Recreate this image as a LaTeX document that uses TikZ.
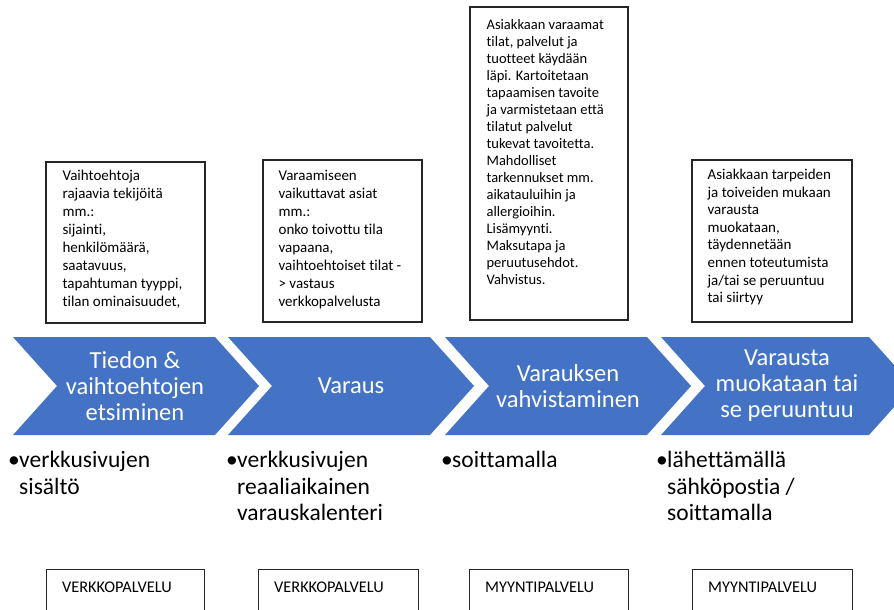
\documentclass[tikz,border=0pt]{standalone}
\usepackage{fontspec}
\setmainfont{Carlito}[Ligatures=NoCommon]
\definecolor{stageblue}{HTML}{4472C4}
\tikzset{
  notebox/.style={draw=black!85, line width=1.2pt, rectangle},
  notetext/.style={anchor=north west, inner sep=0pt, align=left, font=\fontsize{15}{18}\selectfont},
  stagetext/.style={text=white, align=center, inner sep=0pt, font=\fontsize{24.5}{26}\selectfont},
  channel/.style={anchor=north west, inner sep=0pt, align=left, font=\fontsize{23.5}{26.5}\selectfont},
  unittext/.style={anchor=base west, inner sep=0pt, font=\fontsize{16.3}{18}\selectfont}
}
\newcommand{\bul}{\makebox[11pt][l]{•}}
\newcommand{\hang}{\hspace*{11pt}}
\begin{document}
\begin{tikzpicture}[x=1pt, y=-1pt]
    \clip (0,0) rectangle (894,610);

    % Tiedon & vaihtoehtojen etsiminen
    \node[notebox, minimum width=159pt, minimum height=161pt] (search) at (125.5,242.5) {};
    \node[notetext] (searchtext) at ([shift={(17,8)}]search.north west)
        {Vaihtoehtoja\\rajaavia tekijöitä\\mm.:\\sijainti,\\henkilömäärä,\\saatavuus,\\tapahtuman tyyppi,\\tilan ominaisuudet,};

    % Varaus
    \node[notebox, minimum width=159pt, minimum height=162pt] (booking) at (342.5,241) {};
    \node[notetext] (bookingtext) at ([shift={(16,11)}]booking.north west)
        {Varaamiseen\\vaikuttavat asiat\\mm.:\\onko toivottu tila\\vapaana,\\vaihtoehtoiset tilat -\\> vastaus\\verkkopalvelusta};

    % Varauksen vahvistaminen
    \node[notebox, minimum width=158pt, minimum height=313pt] (confirm) at (549,163.5) {};
    \node[notetext, font=\fontsize{14.5}{17}\selectfont] (confirmtext) at ([shift={(17,13)}]confirm.north west)
        {Asiakkaan varaamat\\tilat, palvelut ja\\tuotteet käydään\\läpi. Kartoitetaan\\tapaamisen tavoite\\ja varmistetaan että\\tilatut palvelut\\tukevat tavoitetta.\\Mahdolliset\\tarkennukset mm.\\aikatauluihin ja\\allergioihin.\\Lisämyynti.\\Maksutapa ja\\peruutusehdot.\\Vahvistus.};

    % Varausta muokataan tai se peruuntuu
    \node[notebox, minimum width=160pt, minimum height=162pt] (modify) at (772,241) {};
    \node[notetext, font=\fontsize{15}{17.6}\selectfont] (modifytext) at ([shift={(16,9.5)}]modify.north west)
        {Asiakkaan tarpeiden\\ja toiveiden mukaan\\varausta\\muokataan,\\täydennetään\\ennen toteutumista\\ja/tai se peruuntuu\\tai siirtyy};

    % Chevrons
    \fill[stageblue] (13,337) -- (215,337) -- (259,386) -- (215,435) -- (13,435) -- (57,386) -- cycle;
    \fill[stageblue] (228,337) -- (430,337) -- (474,386) -- (430,435) -- (228,435) -- (272,386) -- cycle;
    \fill[stageblue] (445,337) -- (647,337) -- (691,386) -- (647,435) -- (445,435) -- (489,386) -- cycle;
    \fill[stageblue] (661,337) -- (869,337) -- (913,386) -- (869,435) -- (661,435) -- (705,386) -- cycle;
    \node[stagetext] (stage1) at (135,386) {Tiedon \&\\vaihtoehtojen\\etsiminen};
    \node[stagetext] (stage2) at (351,386) {Varaus};
    \node[stagetext] (stage3) at (568,386) {Varauksen\\vahvistaminen};
    \node[stagetext] (stage4) at (787,386) {Varausta\\muokataan tai\\se peruuntuu};

    % Channels
    \node[channel] (channel1) at (8,451) {\bul verkkusivujen\\\hang sisältö};
    \node[channel] (channel2) at (226,451) {\bul verkkusivujen\\\hang reaaliaikainen\\\hang varauskalenteri};
    \node[channel] (channel3) at (441,451) {\bul soittamalla};
    \node[channel] (channel4) at (656,451) {\bul lähettämällä\\\hang sähköpostia /\\\hang soittamalla};

    % Units
    \node[notebox, minimum width=158pt, minimum height=80pt, anchor=north west] (unit1) at (46,569) {};
    \node[unittext] (unit1text) at ([shift={(16,23)}]unit1.north west) {VERKKOPALVELU};
    \node[notebox, minimum width=160pt, minimum height=80pt, anchor=north west] (unit2) at (258,569) {};
    \node[unittext] (unit2text) at ([shift={(16,23)}]unit2.north west) {VERKKOPALVELU};
    \node[notebox, minimum width=159pt, minimum height=80pt, anchor=north west] (unit3) at (469,569) {};
    \node[unittext] (unit3text) at ([shift={(16,23)}]unit3.north west) {MYYNTIPALVELU};
    \node[notebox, minimum width=160pt, minimum height=80pt, anchor=north west] (unit4) at (692,569) {};
    \node[unittext] (unit4text) at ([shift={(16,23)}]unit4.north west) {MYYNTIPALVELU};
\end{tikzpicture}
\end{document}
